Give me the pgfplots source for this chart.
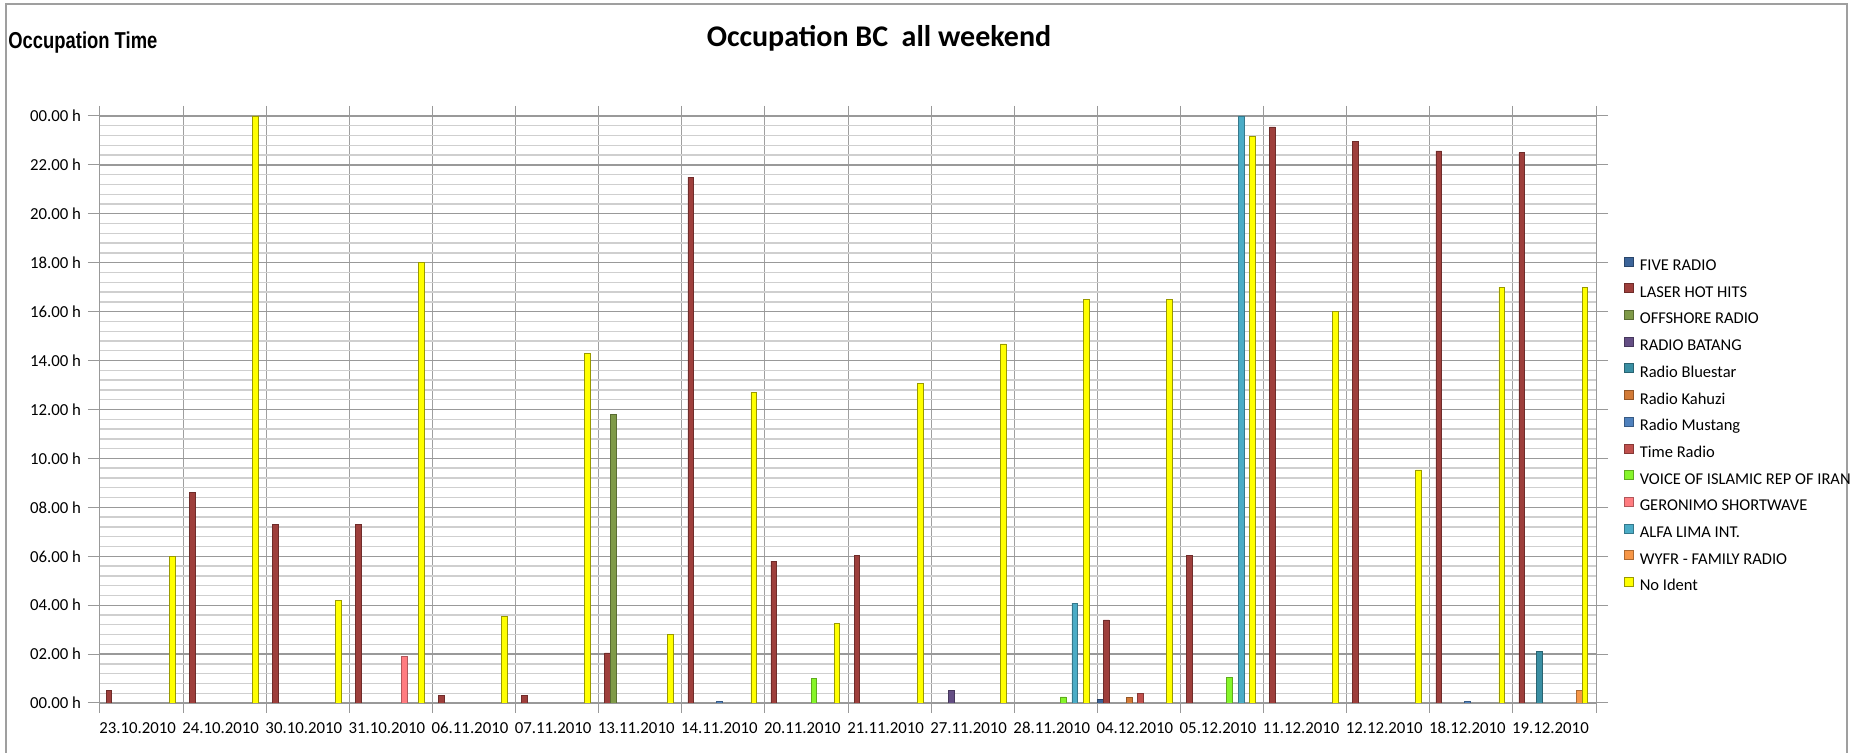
\documentclass[border=0pt]{standalone}
\usepackage{pgfplots}
\pgfplotsset{compat=1.18}
\usepackage{fontspec}
\setmainfont{Carlito}
\newfontfamily\arialfont{Liberation Sans}
\definecolor{c1}{HTML}{3C6499}
\definecolor{c2}{HTML}{9E3F3C}
\definecolor{c3}{HTML}{7F9A48}
\definecolor{c4}{HTML}{644E84}
\definecolor{c5}{HTML}{3A8FA3}
\definecolor{c6}{HTML}{D27A36}
\definecolor{c7}{HTML}{4F81BD}
\definecolor{c8}{HTML}{C0504D}
\definecolor{c9}{HTML}{86F52A}
\definecolor{c10}{HTML}{FF7C80}
\definecolor{c11}{HTML}{4BACC6}
\definecolor{c12}{HTML}{F79646}
\definecolor{c13}{HTML}{FFFF00}
\begin{document}
\begin{tikzpicture}[x=0.5pt,y=0.5pt]
\useasboundingbox (0,0) rectangle (1865,753);
\draw[gray!75, line width=1pt] (6,-5) -- (6,749) -- (1847,749) -- (1847,-5);
\node[font=\bfseries\fontsize{15}{17}\selectfont] at (879,715) {Occupation BC\ \ all weekend};
\node[anchor=west, inner sep=0pt, font=\arialfont\bfseries\fontsize{11.5}{13}\selectfont] at (8,710) {\scalebox{0.8}[1]{Occupation Time}};
\begin{axis}[
  at={(50pt,25pt)}, anchor=south west,
  scale only axis, width=748pt, height=293.5pt,
  ybar=0pt, bar width=0.069,
  every axis plot/.append style={line width=0.3pt, legend image code/.code={\fill[##1] (0pt,0.3pt) rectangle (4.5pt,4.8pt);}},
  xmin=-0.452, xmax=17.548, ymin=0, ymax=24,
  xtick={0,...,17},
  xticklabels={23.10.2010,24.10.2010,30.10.2010,31.10.2010,06.11.2010,07.11.2010,13.11.2010,14.11.2010,20.11.2010,21.11.2010,27.11.2010,28.11.2010,04.12.2010,05.12.2010,11.12.2010,12.12.2010,18.12.2010,19.12.2010},
  minor xtick={-0.452,0.548,...,17.6},
  ytick={0,2,...,24},
  yticklabels={00.00 h,02.00 h,04.00 h,06.00 h,08.00 h,10.00 h,12.00 h,14.00 h,16.00 h,18.00 h,20.00 h,22.00 h,00.00 h},
  minor y tick num=4,
  xminorgrids=true, xmajorgrids=false,
  ymajorgrids=true, yminorgrids=true,
  minor x grid style={gray!75, line width=0.5pt},
  major y grid style={gray!80, line width=0.6pt},
  minor y grid style={gray!38, line width=0.7pt},
  axis line style={gray!80, line width=0.5pt},
  tick align=outside,
  major tick length=6pt, minor tick length=5pt,
  major x tick style={draw=none},
  minor y tick style={draw=none},
  tick style={gray!80, line width=0.5pt},
  tick label style={font=\fontsize{8.4}{10}\selectfont, black},
  xticklabel style={yshift=-0.2pt},
  legend style={at={(rel axis cs:1.0186,0.761)}, anchor=north west, draw=none, fill=none,
    font=\fontsize{8.25}{10}\selectfont, row sep=4.4pt, inner sep=0pt,
    nodes={inner sep=0pt, text height=6pt, text depth=2pt},
    /tikz/every odd column/.append style={column sep=3pt}},
  legend cell align=left,
]
\addplot[fill=c1, draw=c1!70!black] coordinates {(12,0.15)};
\addplot[fill=c2, draw=c2!70!black] coordinates {(0,0.5) (1,8.6) (2,7.3) (3,7.3) (4,0.3) (5,0.3) (6,2.05) (7,21.5) (8,5.8) (9,6.05) (12,3.4) (13,6.05) (14,23.55) (15,22.95) (16,22.57) (17,22.5)};
\addplot[fill=c3, draw=c3!70!black] coordinates {(6,11.8)};
\addplot[fill=c4, draw=c4!70!black] coordinates {(10,0.53)};
\addplot[fill=c5, draw=c5!70!black] coordinates {(17,2.1)};
\addplot[fill=c6, draw=c6!70!black] coordinates {(12,0.25)};
\addplot[fill=c7, draw=c7!70!black] coordinates {(7,0.08) (16,0.08)};
\addplot[fill=c8, draw=c8!70!black] coordinates {(12,0.4)};
\addplot[fill=c9, draw=c9!70!black] coordinates {(8,1.0) (11,0.25) (13,1.03)};
\addplot[fill=c10, draw=c10!70!black] coordinates {(3,1.9)};
\addplot[fill=c11, draw=c11!70!black] coordinates {(11,4.08) (13,24)};
\addplot[fill=c12, draw=c12!70!black] coordinates {(17,0.53)};
\addplot[fill=c13, draw=c13!60!black] coordinates {(0,6.0) (1,24) (2,4.2) (3,18.0) (4,3.55) (5,14.3) (6,2.8) (7,12.7) (8,3.27) (9,13.08) (10,14.68) (11,16.5) (12,16.5) (13,23.18) (14,16.0) (15,9.53) (16,17.0) (17,17.0)};
\legend{FIVE RADIO,LASER HOT HITS,OFFSHORE RADIO,RADIO BATANG,Radio Bluestar,Radio Kahuzi,Radio Mustang,Time Radio,VOICE OF ISLAMIC REP OF IRAN,GERONIMO SHORTWAVE,ALFA LIMA INT.,WYFR - FAMILY RADIO,No Ident}
\end{axis}
\end{tikzpicture}
\end{document}
